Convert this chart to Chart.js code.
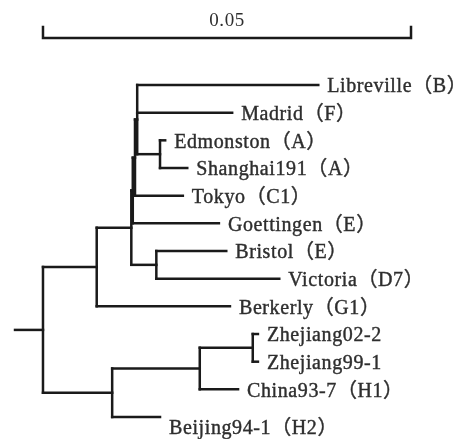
<!DOCTYPE html>
<html>
<head>
<meta charset="utf-8">
<script src="https://cdn.jsdelivr.net/npm/chart.js@4"></script>
<style>
  body { margin: 0; background: #fff; }
</style>
</head>
<body>
<canvas id="tree" width="466" height="439"></canvas>
<script>
// leaves, top to bottom (row = index)
const leafNames = ['Libreville（B）', 'Madrid（F）', 'Edmonston（A）', 'Shanghai191（A）', 'Tokyo（C1）',
                   'Goettingen（E）', 'Bristol（E）', 'Victoria（D7）', 'Berkerly（G1）', 'Zhejiang02-2',
                   'Zhejiang99-1', 'China93-7（H1）', 'Beijing94-1（H2）'];
// distance of each leaf from the root
const leafDist = [0.0374, 0.0257, 0.0166, 0.0196, 0.0190, 0.0239, 0.0249, 0.0321, 0.0254, 0.0292, 0.0292, 0.0265, 0.0159];

// internal nodes: name, distance from root, children (number = leaf row, string = node)
const nodeNames    = ['root', 'n1', 'n2', 'c4', 'c3', 'c2', 'c1', 'edm', 'brv', 'n5', 'zj'];
const nodeDist     = [0, 0.0073, 0.0094, 0.0120, 0.0122, 0.0125, 0.0128, 0.0159, 0.0154, 0.0213, 0.0285];
const nodeChildren = [['n1', 'n2'], ['c4', 8], ['n5', 12], ['c3', 'brv'], ['c2', 5], ['c1', 4],
                      [0, 1, 'edm'], [2, 3], [6, 7], ['zj', 11], [9, 10]];
const rootStub = -0.0038;   // little stem drawn left of the root

// scale bar
const scaleBarLength = 0.05;
const scaleBarLabel = '0.05';

// ---- build the line segments from the tree ----
const nodeY = {};
function yOf(ref) {
  if (typeof ref === 'number') return ref;
  if (nodeY[ref] !== undefined) return nodeY[ref];
  const kids = nodeChildren[nodeNames.indexOf(ref)];
  const y = (yOf(kids[0]) + yOf(kids[kids.length - 1])) / 2;
  nodeY[ref] = y;
  return y;
}
function xOf(ref) {
  return typeof ref === 'number' ? leafDist[ref] : nodeDist[nodeNames.indexOf(ref)];
}

const segments = [];
nodeNames.forEach((name, i) => {
  const kids = nodeChildren[i];
  const x = nodeDist[i];
  segments.push([{x: x, y: yOf(kids[0])}, {x: x, y: yOf(kids[kids.length - 1])}]);   // vertical
  kids.forEach(k => segments.push([{x: x, y: yOf(k)}, {x: xOf(k), y: yOf(k)}]));      // horizontals
});
segments.push([{x: rootStub, y: yOf('root')}, {x: 0, y: yOf('root')}]);

// scale bar rows (above the tree)
const barRow = -1.7, barTickRow = -2.1, barLabelRow = -2.3;
segments.push([{x: 0, y: barTickRow}, {x: 0, y: barRow}, {x: scaleBarLength, y: barRow}, {x: scaleBarLength, y: barTickRow}]);

const datasets = segments.map(seg => ({
  data: seg,
  showLine: true,
  borderColor: '#1a1a1a',
  borderWidth: 2.5,
  pointRadius: 0,
  borderCapStyle: 'square',
  tension: 0
}));

// leaf labels + scale label drawn through the scales
const labelPlugin = {
  id: 'treeLabels',
  afterDatasetsDraw(chart) {
    const ctx = chart.ctx;
    const xs = chart.scales.x, ys = chart.scales.y;
    ctx.save();
    ctx.fillStyle = '#2e2e2e';
    ctx.strokeStyle = '#2e2e2e';
    ctx.lineWidth = 0.4;
    ctx.font = '20px "Liberation Serif", "Noto Sans CJK SC", serif';
    ctx.letterSpacing = '0.6px';
    ctx.textBaseline = 'middle';
    ctx.textAlign = 'left';
    leafNames.forEach((name, i) => {
      const dy = i === leafNames.length - 1 ? 12 : 2;   // Beijing label sits below its branch
      const px = xs.getPixelForValue(leafDist[i]) + 9, py = ys.getPixelForValue(i) + dy;
      ctx.fillText(name, px, py);
      ctx.strokeText(name, px, py);
    });
    ctx.textAlign = 'center';
    ctx.font = '19px "Liberation Serif", serif';
    ctx.fillText(scaleBarLabel, xs.getPixelForValue(scaleBarLength / 2), ys.getPixelForValue(barLabelRow));
    ctx.restore();
  }
};

new Chart(document.getElementById('tree'), {
  type: 'scatter',
  data: { datasets: datasets },
  options: {
    responsive: false,
    animation: false,
    devicePixelRatio: 1,
    layout: { padding: 0 },
    plugins: { legend: { display: false }, tooltip: { enabled: false } },
    scales: {
      x: { type: 'linear', display: false, min: -0.00584, max: 0.05747 },
      y: { type: 'linear', display: false, reverse: true, min: -3.072, max: 12.794 }
    }
  },
  plugins: [labelPlugin]
});
</script>
</body>
</html>
